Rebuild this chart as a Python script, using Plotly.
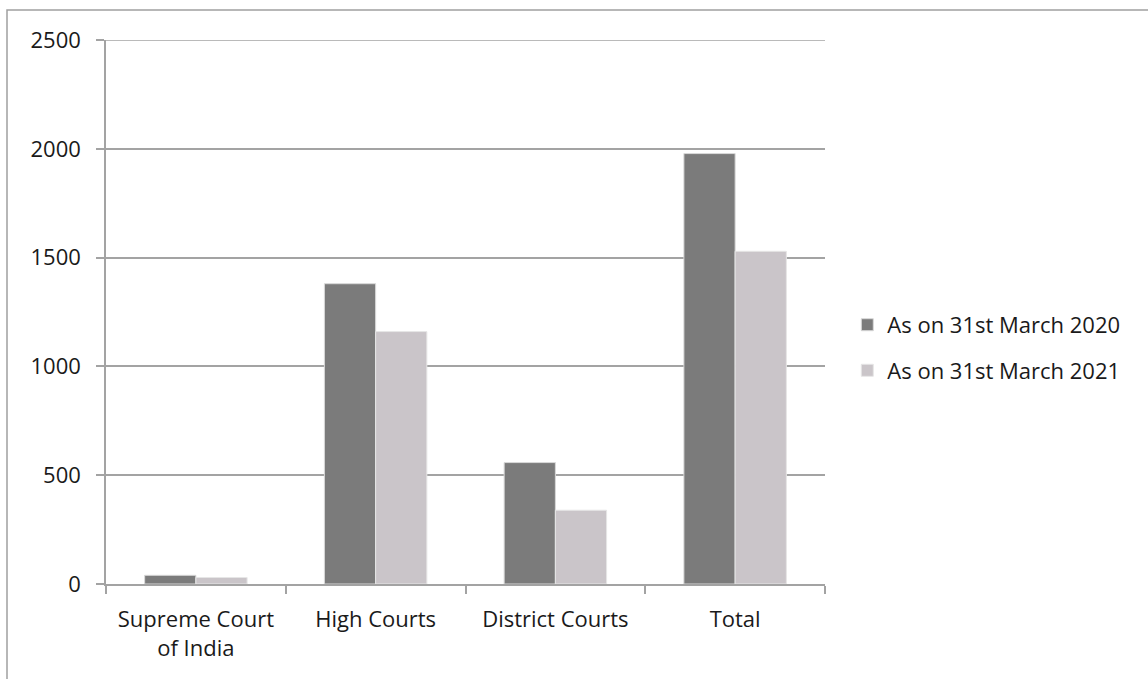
import plotly.graph_objects as go

categories = ["Supreme Court<br>of India", "High Courts", "District Courts", "Total"]
series_2020 = [40, 1380, 558, 1978]
series_2021 = [30, 1160, 339, 1529]
series_names = ["As on 31st March 2020", "As on 31st March 2021"]
y_ticks = [0, 500, 1000, 1500, 2000, 2500]

W, H = 1148, 679
L, R, T, B = 106, 825, 40, 584
FONT = "Open Sans"
GRID = "#a3a3a3"
FS = 22

fig = go.Figure()
fig.add_trace(go.Bar(x=categories, y=series_2020, name=series_names[0],
                     marker=dict(color="#7b7b7b", line=dict(color="#d9d9d9", width=1)),
                     legendgroup="a"))
fig.add_trace(go.Bar(x=categories, y=series_2021, name=series_names[1],
                     marker=dict(color="#cac5c9", line=dict(color="#e6e6e6", width=1)),
                     legendgroup="b"))

fig.update_layout(
    width=W, height=H,
    margin=dict(l=L, r=W - R, t=T, b=H - B, pad=0),
    paper_bgcolor="white", plot_bgcolor="white",
    barmode="group", bargap=0.43, bargroupgap=0,
    font=dict(family=FONT, size=FS, color="#1a1a1a"),
    legend=dict(x=1.031, y=0.434, yanchor="middle", xanchor="left",
                traceorder="grouped", tracegroupgap=14,
                font=dict(family=FONT, size=FS, color="#1a1a1a"),
                itemclick=False),
    xaxis=dict(showline=True, linecolor=GRID, linewidth=1.5,
               ticks="outside", tickson="boundaries", ticklen=8, tickcolor=GRID,
               tickwidth=1.5, showgrid=False, tickfont=dict(size=FS),
               ticklabelstandoff=15),
    yaxis=dict(range=[0, 2500], tickvals=y_ticks, showline=True, linecolor=GRID,
               linewidth=1.5, ticks="outside", ticklen=8, tickcolor=GRID, tickwidth=1.5,
               showgrid=True, gridcolor=GRID, gridwidth=1.5, zeroline=False,
               tickfont=dict(size=FS), ticklabelstandoff=11),
    shapes=[dict(type="rect", xref="paper", yref="paper",
                 x0=(7 - L) / (R - L), x1=2.0,
                 y0=-1.0, y1=(B - 10) / (B - T),
                 line=dict(color="#a0a0a0", width=1.5), fillcolor="rgba(0,0,0,0)",
                 layer="below"),
            dict(type="line", xref="paper", yref="y", x0=0, x1=1,
                 y0=y_ticks[-1], y1=y_ticks[-1],
                 line=dict(color=GRID, width=1.5), layer="below")],
)

fig.write_html("out.html")
